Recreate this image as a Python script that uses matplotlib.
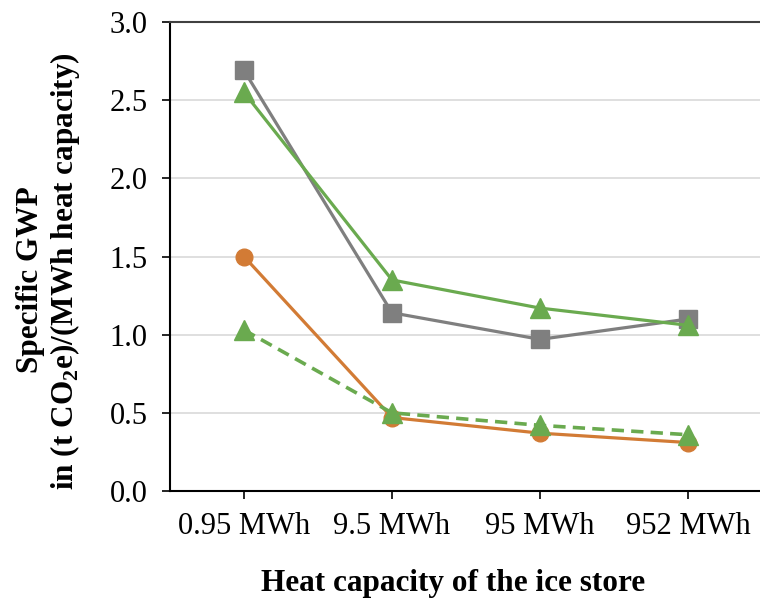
import matplotlib
matplotlib.use("Agg")
import matplotlib.pyplot as plt
import numpy as np

plt.rcParams['font.family'] = ['Liberation Serif', 'DejaVu Serif']
plt.rcParams['mathtext.fontset'] = 'custom'
plt.rcParams['mathtext.rm'] = 'Liberation Serif'
plt.rcParams['mathtext.bf'] = 'Liberation Serif:bold'

# data
categories = ['0.95 MWh', '9.5 MWh', '95 MWh', '952 MWh']
gray_sq = [2.69, 1.14, 0.97, 1.10]
green_tri = [2.55, 1.35, 1.17, 1.06]
orange_circ = [1.50, 0.47, 0.37, 0.31]
green_dash = [1.03, 0.50, 0.42, 0.36]

c_gray = '#7f7f7f'
c_green = '#6aaa4f'
c_orange = '#d27b35'

fig = plt.figure(figsize=(7.6, 6.01), dpi=100)
ax = fig.add_axes([170/760, 110/601, 592/760, 469/601])

x = np.arange(len(categories))
lw = 2.3
# orange first, dashed green drawn on top of it (as in the original)
ax.plot(x, orange_circ, color=c_orange, lw=lw, marker='o', ms=12, zorder=3)
ax.plot(x, green_dash, color=c_green, lw=lw + 0.3, ls=(0, (3.4, 2.0)), marker='^', ms=14, zorder=4)
ax.plot(x, gray_sq, color=c_gray, lw=lw, marker='s', ms=13, zorder=3)
ax.plot(x, green_tri, color=c_green, lw=lw, marker='^', ms=14, zorder=4)

ax.set_xlim(-0.5, 3.5)
ax.set_ylim(0, 3.0)
ax.set_yticks(np.arange(0, 3.01, 0.5))
ax.set_yticklabels([f'{v:.1f}' for v in np.arange(0, 3.01, 0.5)])
ax.set_xticks(x)
ax.set_xticklabels(categories)
ax.tick_params(axis='both', labelsize=22, direction='out', length=6, width=1.2, colors='black')
ax.tick_params(axis='x', pad=9)
ax.tick_params(axis='y', pad=10)

ax.grid(axis='y', color='#d9d9d9', lw=1.2, zorder=0)
ax.set_axisbelow(True)
ax.spines['right'].set_visible(False)
ax.spines['top'].set_color('#404040')
ax.spines['top'].set_linewidth(1.5)
ax.spines['left'].set_linewidth(1.5)
ax.spines['bottom'].set_linewidth(1.5)

fig.text(31/760, 1 - 280/601, 'Specific GWP', rotation=90, ha='center', va='center',
         fontsize=22.5, fontweight='bold')
fig.text(65/760, 1 - 271/601, 'in (t CO$_{\\mathbf{2}}$e)/(MWh heat capacity)', rotation=90,
         ha='center', va='center', fontsize=22.5, fontweight='bold')
fig.text(453/760, 1 - 584/601, 'Heat capacity of the ice store', ha='center', va='center',
         fontsize=22.5, fontweight='bold')

fig.savefig('out.png', dpi=100)
